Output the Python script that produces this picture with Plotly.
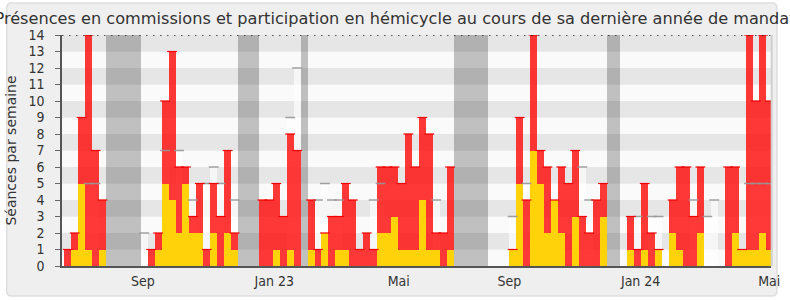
import plotly.graph_objects as go

# ---- data (one entry per week) ----
total = [1,2,9,14,7,4, 0,0,0,0,0, 0,1,2,10,13,6,6,3,5,1,5,3,7,2, 0,0,0,
         4,4,5,3,8,7, 0, 4,1,2,3,3,5,4,1,2,1,6,6,6,5,8,6,9,8,2,2,6,
         0,0,0,0,0, 0,0,0,1,9,4,14,7,6,4,6,5,7,3,2,4,5, 0,0,
         0,3,1,5,2,1,0,4,6,6,3,6,0,0,0,6,6,1,14,10,14,10]
commission = [0,1,5,1,0,1, 0,0,0,0,0, 0,0,1,5,4,2,5,2,2,0,2,0,2,1, 0,0,0,
              0,0,1,0,1,0, 0, 1,0,2,0,1,1,0,0,0,0,2,2,3,1,1,1,4,1,1,0,1,
              0,0,0,0,0, 0,0,0,1,5,0,7,5,2,4,2,0,3,0,0,0,3, 0,0,
              0,1,0,1,0,1,0,2,1,0,0,2,0,0,0,0,2,1,1,1,2,1]
N = None
median = [N,N,N,5,5,N, N,N,N,N,N, 2,N,N,7,N,7,N,4,N,5,6,5,N,4, N,N,N,
          N,N,N,N,9,12, N, N,4,5,4,4,N,N,N,N,4,5,N,N,N,N,N,N,N,4,N,N,
          N,N,N,N,N, N,N,N,3,N,5,N,N,N,N,N,N,N,6,4,N,N, N,N,
          N,N,3,N,3,3,N,N,N,N,4,N,3,4,N,N,N,N,5,5,5,5]
vacation = [0,0,0,0,0,0, 1,1,1,1,1, 0,0,0,0,0,0,0,0,0,0,0,0,0,0, 1,1,1,
            0,0,0,0,0,0, 1, 0,0,0,0,0,0,0,0,0,0,0,0,0,0,0,0,0,0,0,0,0,
            1,1,1,1,1, 0,0,0,0,0,0,0,0,0,0,0,0,0,0,0,0,0, 1,1,
            0,0,0,0,0,0,0,0,0,0,0,0,0,0,0,0,0,0,0,0,0,0]
tick_weeks = [10.82, 29.71, 47.61, 63.52, 82.41, 100.9]
tick_labels = ["Sep", "Jan 23", "Mai", "Sep", "Jan 24", "Mai"]
title = "Présences en commissions et participation en hémicycle au cours de sa dernière année de mandat"
ytitle = "Séances par semaine"
YMAX = 14

weeks = list(range(len(total)))
AXFONT = "DejaVu Sans Condensed, DejaVu Sans"

fig = go.Figure()

# vacation bands
fig.add_trace(go.Bar(x=weeks, y=[YMAX if v else 0 for v in vacation], width=1,
                     marker=dict(color="rgba(20,20,20,0.25)", line=dict(width=0)),
                     hoverinfo="skip", showlegend=False))
# median bars (translucent white)
fig.add_trace(go.Bar(x=weeks, y=[m if m is not None else 0 for m in median], width=1,
                     marker=dict(color="rgba(255,255,255,0.65)", line=dict(width=0)),
                     hoverinfo="skip", showlegend=False))
# median dashes (behind the activity bars)
fig.add_trace(go.Scatter(x=weeks, y=median, mode="markers",
                         marker=dict(symbol="line-ew", size=7,
                                     line=dict(color="rgba(150,150,150,0.9)", width=1.5)),
                         hoverinfo="skip", showlegend=False))
# hemicycle (total) bars
fig.add_trace(go.Bar(x=weeks, y=total, width=1,
                     marker=dict(color="rgba(255,0,0,0.78)", line=dict(width=0)),
                     showlegend=False))
# commission bars
fig.add_trace(go.Bar(x=weeks, y=commission, width=1,
                     marker=dict(color="rgb(255,210,10)", line=dict(width=0)),
                     showlegend=False))
# red top edges
fig.add_trace(go.Scatter(x=[w for w, t in zip(weeks, total) if t > 0],
                         y=[t for t in total if t > 0], mode="markers",
                         marker=dict(symbol="line-ew", size=7,
                                     line=dict(color="rgb(240,0,0)", width=1.2)),
                         hoverinfo="skip", showlegend=False))

# ---- layout decoration ----
L, R, T, B = 62, 10, 35, 34
W, H = 790, 300
pw, ph = W - L - R, H - T - B
shapes = []
def P(x, y):
    return f"{(x - L) / pw:.5f},{(H - B - y) / ph:.5f}"
x0p, y0p = 6, 3
x1p, y1p = 786, 296
r = 5
path = (f"M {P(x0p + r, y0p)} L {P(x1p - r, y0p)} Q {P(x1p, y0p)} {P(x1p, y0p + r)} "
        f"L {P(x1p, y1p - r)} Q {P(x1p, y1p)} {P(x1p - r, y1p)} "
        f"L {P(x0p + r, y1p)} Q {P(x0p, y1p)} {P(x0p, y1p - r)} "
        f"L {P(x0p, y0p + r)} Q {P(x0p, y0p)} {P(x0p + r, y0p)} Z")
shapes.append(dict(type="path", xref="paper", yref="paper", path=path, layer="below",
                   fillcolor="#efefef", line=dict(color="#dedede", width=1.5)))
# stripes
for k in range(YMAX):
    shapes.append(dict(type="rect", xref="paper", yref="y", x0=0, x1=1, y0=k, y1=k + 1,
                       layer="below", line=dict(width=0),
                       fillcolor="#e6e6e6" if k % 2 == 1 else "#fafafa"))
# dotted top line
shapes.append(dict(type="line", xref="paper", yref="y", x0=0, x1=1, y0=YMAX, y1=YMAX,
                   layer="above", line=dict(color="#222", width=1.5, dash="1.5px,5.5px")))
# right border
shapes.append(dict(type="line", xref="paper", yref="paper", x0=1.001, x1=1.001, y0=0, y1=1,
                   layer="above", line=dict(color="#d0d0d0", width=2)))

fig.update_layout(
    width=W, height=H, margin=dict(l=L, r=R, t=T, b=B),
    paper_bgcolor="white", plot_bgcolor="rgba(0,0,0,0)",
    barmode="overlay", bargap=0, showlegend=False,
    shapes=shapes,
    title=dict(text=title, x=0.5, xref="container", xanchor="center",
               y=1 - 18 / H, yref="container", yanchor="middle",
               font=dict(family="DejaVu Sans", size=16.15, color="#333")),
    font=dict(family="DejaVu Sans", color="#333"),
)
fig.update_xaxes(range=[-0.827, 101.16], tickvals=tick_weeks, ticktext=tick_labels,
                 showgrid=False, zeroline=False, ticks="", showline=True,
                 linecolor="#555", linewidth=1.5,
                 tickfont=dict(family=AXFONT, size=14, color="#333"),
                 ticklabelstandoff=1)
fig.update_yaxes(range=[0, YMAX], tickvals=list(range(YMAX + 1)), showgrid=False,
                 zeroline=False, ticks="outside", ticklen=5, tickcolor="#666", tickwidth=1,
                 showline=True, linecolor="#555", linewidth=1.5,
                 tickfont=dict(family=AXFONT, size=14, color="#333"), ticklabelstandoff=8,
                 title=dict(text=ytitle, font=dict(family="DejaVu Sans", size=14, color="#333"),
                            standoff=9))

fig.write_html("out.html")
